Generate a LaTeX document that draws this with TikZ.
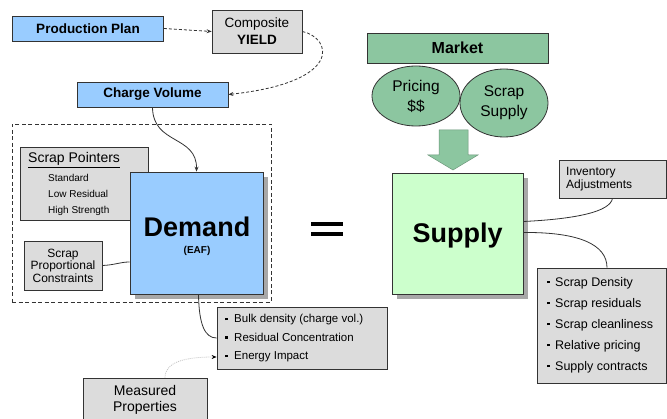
\documentclass[tikz,border=0pt]{standalone}
\usepackage{fontspec}
\setmainfont{Liberation Sans}
\usetikzlibrary{shapes.geometric,shadows,arrows.meta}
\definecolor{boxblue}{HTML}{99CCFF}
\definecolor{boxgray}{HTML}{DCDCDC}
\definecolor{mktgreen}{HTML}{8CC6A0}
\definecolor{supgreen}{HTML}{CCFFCC}
\definecolor{edgecol}{HTML}{333333}
\definecolor{shade}{HTML}{A8A8A8}
\newcommand{\fsz}[2]{\fontsize{#1}{#2}\selectfont}
\newcommand{\sqb}{\rule[0.25em]{2.5pt}{2.5pt}}
\begin{document}
\begin{tikzpicture}[x=1pt,y=-1pt,
  box/.style={draw=edgecol, line width=0.8pt, inner sep=0pt, rectangle},
  bluebox/.style={box, fill=boxblue},
  graybox/.style={box, fill=boxgray},
  greenbox/.style={box, fill=mktgreen},
  shadowed/.style={general shadow={fill=shade, shadow xshift=5pt, shadow yshift=-5pt}},
  conn/.style={draw=edgecol, line width=0.8pt},
  dashconn/.style={conn, dash pattern=on 3pt off 2pt},
  arrowend/.style={-{Stealth[length=5pt,width=4pt]}},
  txt/.style={inner sep=0pt, align=left}
]
\useasboundingbox (0,0) rectangle (667,419);
\fill[white] (0,0) rectangle (667,419);

% dashed group around demand
\node[draw=edgecol, line width=0.7pt, dash pattern=on 4pt off 2.5pt, minimum width=259pt, minimum height=178pt, inner sep=0pt] (grp) at (141.5,213) {};

% top flow
\node[bluebox, minimum width=151pt, minimum height=25pt, font=\bfseries\fsz{13.5}{16}] (pp) at (88,28.5) {Production Plan};
\node[graybox, minimum width=90pt, minimum height=43pt, align=center, font=\fsz{13.5}{17}] (comp) at (257,31.5) {Composite\\\textbf{YIELD}};
\node[bluebox, minimum width=151pt, minimum height=25pt, font=\bfseries\fsz{13.5}{16}] (cv) at (152.5,94.5) {Charge Volume};

% scrap pointers
\node[graybox, minimum width=128pt, minimum height=73pt] (sp) at (84,183.5) {};
\node[txt, anchor=west, font=\fsz{14}{16}] (sptitle) at (28,160) {\underline{Scrap Pointers}};
\node[txt, anchor=west, font=\fsz{10}{16}] (spitems) at (48,195) {Standard\\Low Residual\\High Strength};

% scrap proportional constraints
\node[graybox, minimum width=78pt, minimum height=49pt, align=center, font=\fsz{12}{12.5}] (spc) at (63,265.5) {Scrap\\Proportional\\Constraints};

% demand
\node[bluebox, shadowed, minimum width=133pt, minimum height=122pt] (dem) at (196.5,233) {};
\node[txt, anchor=base, font=\bfseries\fsz{27}{30}] (demt) at (197,237) {Demand};
\node[txt, font=\bfseries\fsz{10}{12}] (eaf) at (197,251) {(EAF)};

% equals sign
\fill[black] (311,222) rectangle (343,226);
\fill[black] (311,232) rectangle (343,236);

% market
\node[greenbox, minimum width=181pt, minimum height=30pt, font=\bfseries\fsz{16}{18}] (mkt) at (457.5,48) {Market};
\node[ellipse, draw=edgecol, line width=0.8pt, fill=mktgreen, minimum width=88pt, minimum height=60pt, inner sep=0pt, align=center, font=\fsz{15.5}{20}] (pricing) at (416,96) {Pricing\\\$\$};
\node[ellipse, draw=edgecol, line width=0.8pt, fill=mktgreen, minimum width=88pt, minimum height=68pt, inner sep=0pt, align=center, font=\fsz{15.5}{20}] (ssup) at (504,103) {Scrap\\Supply};

% big arrow
\draw[fill=mktgreen, draw=mktgreen!75!black, line width=0.5pt]
  (439,130) -- (468,130) -- (468,155) -- (478,155) -- (453,170) -- (428,155) -- (439,155) -- cycle;

% supply
\node[box, shadowed, fill=supgreen, minimum width=131pt, minimum height=121pt] (sup) at (457.5,233.5) {};
\node[txt, anchor=base, font=\bfseries\fsz{27}{30}] (supt) at (457.5,243) {Supply};

% inventory adjustments
\node[graybox, minimum width=107pt, minimum height=38pt] (inv) at (612.5,179) {};
\node[txt, anchor=west, font=\fsz{12}{12.5}] (invt) at (566,179) {Inventory\\Adjustments};

% supply list
\node[graybox, minimum width=129pt, minimum height=115pt] (slist) at (601.5,325.5) {};
\node[txt, anchor=west, font=\fsz{12.5}{21}] (slistt) at (547,325) {\sqb\hspace{5.5pt}Scrap Density\\\sqb\hspace{5.5pt}Scrap residuals\\\sqb\hspace{5.5pt}Scrap cleanliness\\\sqb\hspace{5.5pt}Relative pricing\\\sqb\hspace{5.5pt}Supply contracts};

% demand list
\node[graybox, minimum width=170pt, minimum height=62pt] (dlist) at (302,338) {};
\node[txt, anchor=west, font=\fsz{11.5}{18.5}] (dlistt) at (225,338.5) {\sqb\hspace{6.5pt}Bulk density (charge vol.)\\\sqb\hspace{6.5pt}Residual Concentration\\\sqb\hspace{6.5pt}Energy Impact};

% measured properties
\node[graybox, minimum width=124pt, minimum height=50pt] (meas) at (145,403) {};
\node[txt, align=center, font=\fsz{14}{16}] (meast) at (145,400) {Measured\\Properties};

% connectors
\draw[dashconn, arrowend] (pp.east) -- (comp.west);
\draw[dashconn, arrowend] (comp.east) .. controls (332,38) and (344,82) .. (cv.east);
\draw[conn, arrowend] (cv.south) .. controls (153,145) and (197,135) .. (dem.north);
\draw[conn] (spc.east) .. controls (115,265) and (120,262) .. ([yshift=-29pt]dem.west);
\draw[conn] ([xshift=2pt]dem.south) .. controls (199,325) and (205,338) .. (dlist.west);
\draw[draw=gray!45, line width=0.8pt, dash pattern=on 1pt off 1pt, -{Stealth[length=5pt,width=4pt,color=black]}]
  ([xshift=20pt]meas.north) .. controls (165,362) and (185,357) .. ([yshift=-19pt]dlist.west);
\draw[conn] ([yshift=12pt]sup.east) .. controls (575,219) and (610,212) .. (inv.south);
\draw[conn] ([yshift=1pt]sup.east) .. controls (580,232) and (607,245) .. ([xshift=5.5pt]slist.north);
\end{tikzpicture}
\end{document}
